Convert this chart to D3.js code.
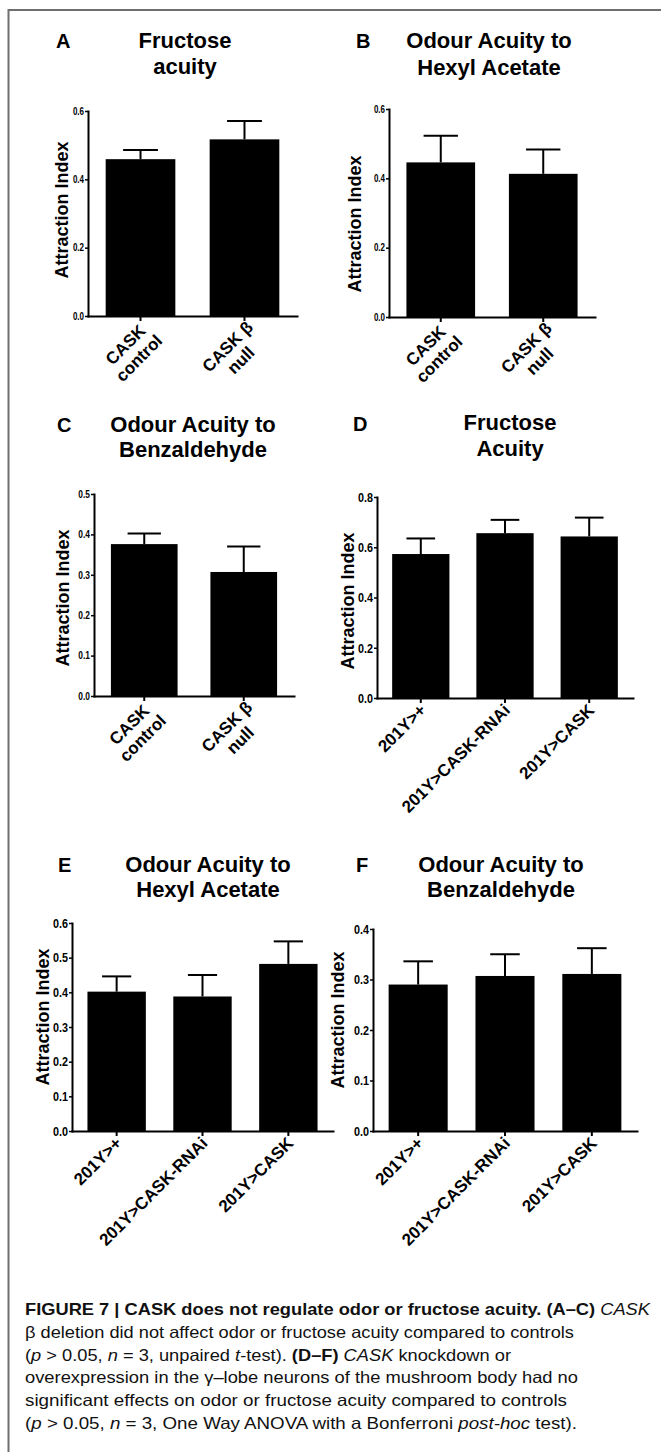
<!DOCTYPE html>
<html><head><meta charset="utf-8">
<script src="https://cdn.jsdelivr.net/npm/d3@7"></script>
<style>body{margin:0;background:#fff}svg{display:block}</style>
</head><body>
<svg id="c" width="661" height="1452"></svg>
<script>
// ---------------- data ----------------
const labelsAC = [["CASK", "control"], ["CASK β", "null"]];
const labelsDF = [["201Y>+"], ["201Y>CASK-RNAi"], ["201Y>CASK"]];
const meanA = [0.459, 0.517], semA = [0.027, 0.054];
const meanB = [0.446, 0.413], semB = [0.077, 0.070];
const meanC = [0.376, 0.307], semC = [0.026, 0.063];
const meanD = [0.573, 0.656, 0.643], semD = [0.062, 0.053, 0.075];
const meanE = [0.402, 0.388, 0.482], semE = [0.044, 0.062, 0.065];
const meanF = [0.290, 0.307, 0.311], semF = [0.046, 0.043, 0.051];
const ticksA = [0, 0.2, 0.4, 0.6];
const ticksB = [0, 0.2, 0.4, 0.6];
const ticksC = [0, 0.1, 0.2, 0.3, 0.4, 0.5];
const ticksD = [0, 0.2, 0.4, 0.6, 0.8];
const ticksE = [0, 0.1, 0.2, 0.3, 0.4, 0.5, 0.6];
const ticksF = [0, 0.1, 0.2, 0.3, 0.4];
const panelLetters = ["A", "B", "C", "D", "E", "F"];
const titles = [
  ["Fructose", "acuity"],
  ["Odour Acuity to", "Hexyl Acetate"],
  ["Odour Acuity to", "Benzaldehyde"],
  ["Fructose", "Acuity"],
  ["Odour Acuity to", "Hexyl Acetate"],
  ["Odour Acuity to", "Benzaldehyde"]
];
const yLabel = "Attraction Index";
const captionLines = [
  [["FIGURE 7 | CASK does not regulate odor or fructose acuity. (A–C)", "b"], [" ", ""], ["CASK", "i"]],
  [["β deletion did not affect odor or fructose acuity compared to controls", ""]],
  [["(", ""], ["p", "i"], [" > 0.05, ", ""], ["n", "i"], [" = 3, unpaired ", ""], ["t", "i"], ["-test). ", ""], ["(D–F)", "b"], [" ", ""], ["CASK", "i"], [" knockdown or", ""]],
  [["overexpression in the γ–lobe neurons of the mushroom body had no", ""]],
  [["significant effects on odor or fructose acuity compared to controls", ""]],
  [["(", ""], ["p", "i"], [" > 0.05, ", ""], ["n", "i"], [" = 3, One Way ANOVA with a Bonferroni ", ""], ["post-hoc", "i"], [" test).", ""]]
];

// ---------------- layout ----------------
const W = 661, H = 1452;
const FONT = "'Liberation Sans', Arial, Helvetica, sans-serif";
const NARROW = "'Liberation Sans Narrow', 'Arial Narrow', 'Liberation Sans', Arial, sans-serif";
const layouts = [
  {x0: 88,  x1: 297, yB: 316,  yT: 111, letter: [56, 48],  tcx: 185, tb: [48, 74],   yl: [62, 210],   tf: 10,  pi: 0.33, po: 0.17},
  {x0: 389, x1: 595, yB: 317,  yT: 109, letter: [356, 48], tcx: 489, tb: [48, 75],   yl: [355, 224],  tf: 10,  pi: 0.33, po: 0.17},
  {x0: 94,  x1: 294, yB: 696,  yT: 494, letter: [57, 432], tcx: 193, tb: [432, 457], yl: [63, 598],   tf: 10.5, pi: 0.33, po: 0.17},
  {x0: 377, x1: 633, yB: 698,  yT: 497, letter: [353, 431], tcx: 510, tb: [430, 456], yl: [348, 601], tf: 13.5, pi: 0.32, po: 0.18},
  {x0: 72,  x1: 333, yB: 1131, yT: 923, letter: [58, 872], tcx: 208, tb: [872, 897], yl: [43, 1017],  tf: 13.5, pi: 0.32, po: 0.18},
  {x0: 373, x1: 637, yB: 1131, yT: 929, letter: [356, 872], tcx: 501, tb: [872, 897], yl: [338, 1020], tf: 13.5, pi: 0.32, po: 0.18}
];
const panelData = [
  {cats: labelsAC, mean: meanA, sem: semA, ticks: ticksA},
  {cats: labelsAC, mean: meanB, sem: semB, ticks: ticksB},
  {cats: labelsAC, mean: meanC, sem: semC, ticks: ticksC},
  {cats: labelsDF, mean: meanD, sem: semD, ticks: ticksD},
  {cats: labelsDF, mean: meanE, sem: semE, ticks: ticksE},
  {cats: labelsDF, mean: meanF, sem: semF, ticks: ticksF}
];

const svg = d3.select("#c");
svg.append("rect").attr("width", W).attr("height", H).attr("fill", "#fff");
// figure frame (top and left border)
svg.append("path").attr("d", `M${W},10H8.5V${H}`)
  .attr("fill", "none").attr("stroke", "#6f6f6f").attr("stroke-width", 2);

panelData.forEach((d, p) => {
  const L = layouts[p];
  const g = svg.append("g");
  const x = d3.scaleBand().domain(d.cats.map((c, i) => i)).range([L.x0, L.x1])
    .paddingInner(L.pi).paddingOuter(L.po);
  const y = d3.scaleLinear().domain([0, d3.max(d.ticks)]).range([L.yB, L.yT]);
  const bw = x.bandwidth();

  // error bars (upper only)
  const eb = g.append("g").attr("stroke", "#000").attr("stroke-width", 2).attr("fill", "none");
  eb.selectAll("line.v").data(d.mean).join("line").attr("class", "v")
    .attr("x1", (v, i) => x(i) + bw / 2).attr("x2", (v, i) => x(i) + bw / 2)
    .attr("y1", v => y(v)).attr("y2", (v, i) => y(v + d.sem[i]));
  eb.selectAll("line.cap").data(d.mean).join("line").attr("class", "cap")
    .attr("x1", (v, i) => x(i) + bw / 2 - bw * 0.25).attr("x2", (v, i) => x(i) + bw / 2 + bw * 0.25)
    .attr("y1", (v, i) => y(v + d.sem[i])).attr("y2", (v, i) => y(v + d.sem[i]));

  // bars
  g.selectAll("rect.bar").data(d.mean).join("rect").attr("class", "bar")
    .attr("x", (v, i) => x(i)).attr("width", bw)
    .attr("y", v => y(v)).attr("height", v => y(0) - y(v))
    .attr("fill", "#000");

  // y axis
  const ya = g.append("g").attr("transform", `translate(${L.x0},0)`)
    .call(d3.axisLeft(y).tickValues(d.ticks).tickFormat(d3.format(".1f"))
      .tickSize(3).tickSizeOuter(0).tickPadding(2));
  ya.select(".domain").attr("stroke-width", 2).attr("stroke-linecap", "square");
  ya.selectAll(".tick line").attr("stroke-width", 1.5);
  ya.selectAll(".tick text").attr("font-family", NARROW).attr("font-weight", "bold")
    .attr("font-size", L.tf).attr("fill", "#000").attr("transform", "scale(0.8,1)");

  // x axis
  const xa = g.append("g").attr("transform", `translate(0,${L.yB})`)
    .call(d3.axisBottom(x).tickSize(5).tickSizeOuter(0).tickFormat(""));
  xa.select(".domain").attr("stroke-width", 2).attr("stroke-linecap", "square");
  xa.selectAll(".tick line").attr("stroke-width", 2);

  // x labels (rotated, multi-line centered relative to each other)
  const lh = 19;
  d.cats.forEach((lines, i) => {
    const cx = x(i) + bw / 2;
    const n = lines.length;
    const dx = n === 1 ? 2 : 12, dy = n === 1 ? 9 : 15;
    const grp = g.append("g")
      .attr("transform", `translate(${cx + dx},${L.yB + dy}) rotate(-45)`);
    const texts = lines.map((ln, j) => grp.append("text")
      .attr("y", (j - (n - 1) / 2) * lh).attr("dy", "0.35em")
      .attr("font-family", FONT).attr("font-weight", "bold").attr("font-size", 17)
      .attr("text-anchor", "middle").text(ln));
    const maxW = d3.max(texts, t => t.node().getComputedTextLength());
    texts.forEach(t => t.attr("x", -maxW / 2));
  });

  // y label
  g.append("text").attr("transform", `translate(${L.yl[0]},${L.yl[1]}) rotate(-90)`)
    .attr("text-anchor", "middle").attr("dominant-baseline", "central")
    .attr("font-family", FONT).attr("font-weight", "bold").attr("font-size", 18)
    .text(yLabel);

  // title
  titles[p].forEach((t, j) => {
    g.append("text").attr("x", L.tcx).attr("y", L.tb[j]).attr("text-anchor", "middle")
      .attr("font-family", FONT).attr("font-weight", "bold").attr("font-size", 22).text(t);
  });
  // panel letter
  g.append("text").attr("x", L.letter[0]).attr("y", L.letter[1])
    .attr("font-family", FONT).attr("font-weight", "bold").attr("font-size", 20)
    .text(panelLetters[p]);
});

// caption
const capX = 25, capY0 = 1315, capLH = 22.8;
const capWidths = [625, 549, 486, 553, 542, 552];
captionLines.forEach((segs, i) => {
  const t = svg.append("text").attr("x", capX).attr("y", capY0 + i * capLH)
    .attr("font-family", NARROW).attr("font-size", 16.5).attr("fill", "#111")
    .attr("textLength", capWidths[i]).attr("lengthAdjust", "spacingAndGlyphs")
    .attr("xml:space", "preserve").style("white-space", "pre");
  segs.forEach(([s, st]) => {
    t.append("tspan").text(s)
      .attr("font-weight", st === "b" ? "bold" : "normal")
      .attr("font-style", st === "i" ? "italic" : "normal");
  });
});
</script>
</body></html>
